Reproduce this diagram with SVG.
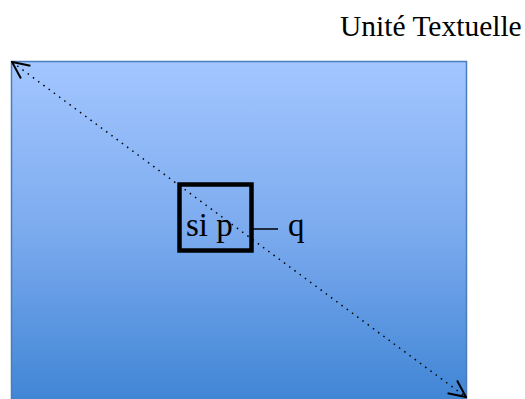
<svg xmlns="http://www.w3.org/2000/svg" width="525" height="399" viewBox="0 0 525 399">
<style>
.t{font-family:"Liberation Serif","Times New Roman",serif;fill:#000}
</style>
<defs>
<linearGradient id="bg" x1="0" y1="0" x2="0" y2="1">
<stop offset="0" stop-color="#A3C6FF"/>
<stop offset="0.5" stop-color="#7BAAEE"/>
<stop offset="1" stop-color="#3E84D4"/>
</linearGradient>
<marker id="ah" viewBox="0 0 20 20" refX="19" refY="10" markerWidth="20" markerHeight="20" markerUnits="userSpaceOnUse" orient="auto-start-reverse">
<path d="M2,2 L19,10 L2,18" fill="none" stroke="#000" stroke-width="2"/>
</marker>
</defs>
<rect x="0" y="0" width="525" height="399" fill="#fff"/>
<g id="unite">
<rect x="11.5" y="61.5" width="455" height="345" fill="url(#bg)" stroke="#4A7DBB" stroke-width="1.5"/>
<text class="t" x="340" y="36" font-size="29.5">Unité Textuelle</text>
</g>
<g id="connectors">
<line x1="12" y1="62" x2="466" y2="397" stroke="#000" stroke-width="1.5" stroke-dasharray="1.5,5" marker-start="url(#ah)" marker-end="url(#ah)"/>
<line x1="253" y1="229" x2="278" y2="229" stroke="#000" stroke-width="1.5"/>
</g>
<g id="sip">
<rect x="179.5" y="184.5" width="72" height="66" fill="none" stroke="#000" stroke-width="4.5"/>
<text class="t" x="186" y="236" font-size="33">si p</text>
</g>
<g id="q">
<text class="t" x="288" y="236" font-size="33">q</text>
</g>
</svg>
